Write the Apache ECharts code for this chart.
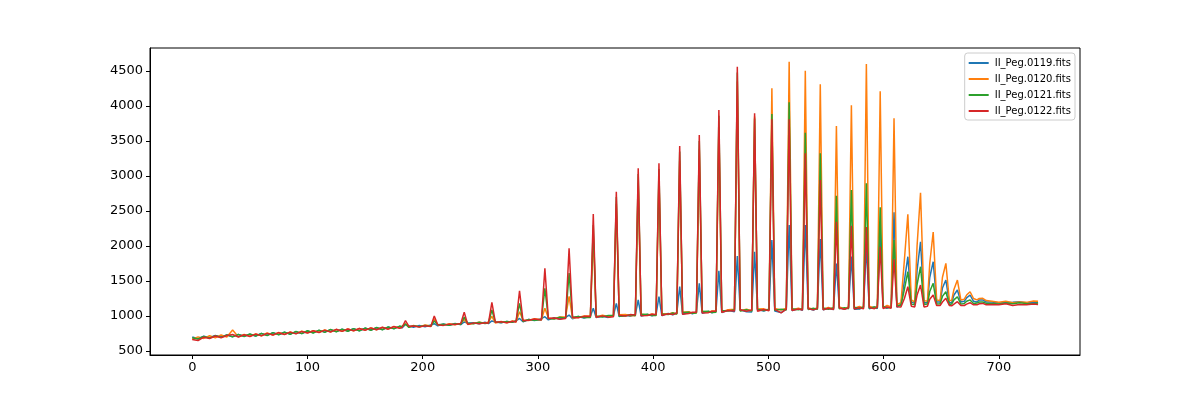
<!DOCTYPE html>
<html>
<head>
<meta charset="utf-8">
<script src="https://cdn.jsdelivr.net/npm/echarts@6/dist/echarts.min.js"></script>
<style>
html,body{margin:0;padding:0;background:#fff;}
#chart{width:1200px;height:400px;}
</style>
</head>
<body>
<div id="chart"></div>
<script>
// ---- data ----
const seriesNames = ['II_Peg.0119.fits', 'II_Peg.0120.fits', 'II_Peg.0121.fits', 'II_Peg.0122.fits'];
const xTicks = [0, 100, 200, 300, 400, 500, 600, 700];
const yTicks = [500, 1000, 1500, 2000, 2500, 3000, 3500, 4000, 4500];

// sample positions (pixel index along the spectrum)
const xs = [].concat(
  [0,5,10,15,20,25,30,35,40,45,50,55,60,65,70,75,80,85,90,95,100,105,110,115,120,125,130,135,140,145,150,155,160,165,170,175,180],
  [182,185,188, 192,197,202, 207,210,213, 218,223,228, 233,236,239, 244,249,254, 257,260,263, 268,273,278,
   281,284,287, 292,297, 303,306,309, 314,319, 324,327,330, 335,340, 345.5,348,350.5, 356,361, 365.5,368,370.5, 376,380,
   384.5,387,389.5, 395,399, 402.5,405,407.5, 413,417, 420.5,423,425.5, 431,434, 437.5,440,442.5, 448,451, 454.5,457,459.5, 465,
   470.5,473,475.5, 481, 485.5,488,490.5, 496, 500.5,503,505.5, 511, 515.5,518,520.5, 526, 529.5,532,534.5, 539, 542.5,545,547.5, 552,
   556.5,559,561.5, 566, 569.5,572,574.5, 579, 582.5,585,587.5, 592, 594.5,597,599.5, 603, 606.5,609,611.5],
  [615,618,621,624, 627,629,632,635, 638,640,643,646, 649,651,654,657, 659,661,664,667, 670,672,675,678,
   681,683,686,689, 694,700,706,712,718,724,730,734]
);

const blue = [].concat(
  [700,675,712,690,722,700,728,705,735,712,740,715,750,725,760,735,768,742,775,750,786,762,795,770,805,778,810,785,818,790,825,800,832,808,842,820,852],
  [830,880,858, 840,866,846, 872,890,860, 885,866,892, 878,915,898, 905,888,910, 892,930,915, 905,922,910,
   930,965,918, 950,935, 962,990,945, 975,958, 980,1014,962, 992,972, 995,1110,980, 998,980, 1008,1181,992, 1015,995,
   1020,1229,1000, 1022,1002, 1025,1276,1005, 1038,1018, 1045,1419,1025, 1052,1032, 1058,1467,1040, 1066,1045, 1070,1647,1050, 1082,
   1062,1857,1090, 1060, 1058,1919,1092, 1070, 1095,2086,1072, 1050, 1100,2300,1078, 1105, 1080,2300,1108, 1085, 1110,2100,1088, 1112,
   1092,1750,1118, 1095, 1120,1850,1098, 1100, 1125,2000,1105, 1128, 1108,2200,1132, 1112, 1140,2481,1125],
  [1170,1500,1847,1200, 1180,1650,2061,1190, 1190,1550,1776,1200, 1200,1400,1514,1190, 1190,1300,1371,1200, 1210,1260,1300,1210,
   1200,1230,1230,1200, 1200,1185,1190,1195,1205,1185,1195,1190]
);

const orange = [].concat(
  [668,702,680,718,690,728,700,800,702,738,710,745,718,758,728,765,738,772,748,782,760,790,768,800,775,808,782,815,790,822,798,830,805,838,815,848,828],
  [852,890,840, 866,845,872, 856,955,878, 870,890,876, 895,950,884, 892,910,898, 915,995,900, 922,905,930,
   915,1060,942, 935,962, 948,1110,972, 962,985, 990,1280,970, 980,1000, 1002,2150,985, 1010,992, 995,2600,1018, 1022,1005,
   1008,2900,1028, 1010,1030, 1012,2980,1035, 1025,1048, 1030,3220,1055, 1060,1040, 1045,3380,1068, 1052,1072, 1075,3700,1058, 1090,
   1095,4350,1075, 1098, 1075,3850,1100, 1102, 1082,4253,1108, 1085, 1110,4633,1090, 1112, 1092,4504,1118, 1095, 1120,4310,1098, 1122,
   1102,3714,1128, 1105, 1130,4010,1110, 1135, 1112,4600,1140, 1115, 1142,4210,1120, 1150, 1130,3824,1165],
  [1190,1800,2453,1230, 1200,2000,2761,1220, 1210,1750,2200,1230, 1220,1550,1753,1220, 1220,1380,1514,1230, 1240,1300,1347,1250,
   1230,1250,1253,1220, 1210,1195,1210,1190,1200,1195,1215,1210]
);

const green = [].concat(
  [690,672,708,684,720,695,730,702,738,708,745,712,752,720,762,730,770,738,780,748,790,758,798,766,808,774,812,782,820,788,828,796,836,804,845,816,856],
  [848,885,838, 860,848,866, 854,930,876, 882,868,890, 880,985,900, 890,910,892, 900,1086,914, 906,920,912,
   932,1181,920, 952,940, 946,1396,966, 958,982, 968,1614,984, 994,978, 980,2300,1000, 985,1008, 1006,2700,995, 1000,1018,
   1004,3030,1022, 1024,1006, 1008,3100,1030, 1022,1044, 1028,3350,1050, 1055,1038, 1042,3500,1064, 1068,1050, 1055,3860,1078, 1070,
   1088,4480,1072, 1090, 1070,3820,1094, 1078, 1098,3886,1082, 1098, 1086,4053,1105, 1088, 1106,3619,1092, 1110, 1095,3324,1115, 1098,
   1118,2719,1102, 1120, 1105,2800,1125, 1108, 1128,2896,1112, 1130, 1115,2553,1135, 1118, 1122,2086,1150],
  [1150,1380,1633,1170, 1160,1450,1704,1165, 1170,1350,1467,1170, 1175,1280,1347,1165, 1170,1230,1276,1170, 1180,1210,1230,1180,
   1185,1200,1200,1180, 1180,1170,1185,1175,1190,1180,1175,1185]
);

const red = [].concat(
  [665,650,698,678,715,690,722,735,700,732,708,742,716,752,728,762,736,770,745,780,756,790,765,798,772,810,780,815,788,822,796,830,804,840,812,850,826],
  [836,933,852, 856,842,860, 850,1000,874, 866,884,878, 892,1053,880, 902,888,904, 896,1196,912, 918,904,926,
   914,1361,934, 938,956, 944,1681,964, 970,955, 964,1967,982, 975,995, 994,2457,982, 1002,984, 990,2776,1012, 1000,1020,
   1016,3110,1002, 1006,1026, 1022,3181,1008, 1032,1020, 1042,3429,1026, 1036,1054, 1055,3586,1044, 1048,1068, 1068,3943,1054, 1080,
   1070,4561,1088, 1068, 1086,3896,1068, 1092, 1075,3810,1096, 1045, 1098,3810,1080, 1100, 1085,3324,1104, 1088, 1106,2943,1090, 1110,
   1094,2347,1114, 1096, 1116,2290,1100, 1118, 1102,2270,1122, 1105, 1125,1990,1108, 1128, 1110,1810,1132],
  [1130,1250,1419,1140, 1130,1300,1443,1130, 1140,1240,1300,1150, 1150,1200,1253,1150, 1145,1170,1204,1150, 1150,1170,1190,1160,
   1160,1175,1180,1160, 1165,1160,1175,1150,1165,1160,1170,1165]
);

const colors = ['#1f77b4', '#ff7f0e', '#2ca02c', '#d62728'];
const allY = [blue, orange, green, red];
allY.forEach((a, i) => { if (a.length !== xs.length) console.warn('length mismatch', i, a.length, xs.length); });

const chart = echarts.init(document.getElementById('chart'), null, {renderer: 'canvas'});
const font = 'DejaVu Sans';
chart.setOption({
  animation: false,
  backgroundColor: '#fff',
  grid: {left: 150, right: 120, top: 48, bottom: 45, show: true, borderColor: '#000', borderWidth: 1, backgroundColor: 'transparent'},
  legend: {
    data: seriesNames,
    orient: 'vertical',
    right: 125,
    top: 53,
    backgroundColor: '#fff',
    borderColor: '#cccccc',
    borderWidth: 1,
    borderRadius: 3,
    padding: [4, 4, 3, 4],
    itemGap: 4,
    itemWidth: 20,
    itemHeight: 2,
    icon: 'rect',
    textStyle: {fontFamily: font, fontSize: 10, color: '#000', lineHeight: 12, padding: [0, 0, 0, 1]}
  },
  xAxis: {
    type: 'value',
    min: -36.7,
    max: 770.4,
    splitLine: {show: false},
    axisLine: {show: true, onZero: false, lineStyle: {color: '#000', width: 1}},
    axisTick: {show: true, length: 4, lineStyle: {color: '#000'}, customValues: xTicks},
    axisLabel: {color: '#000', fontFamily: font, fontSize: 13, margin: 6, customValues: xTicks, formatter: v => String(v)}
  },
  yAxis: {
    type: 'value',
    min: 443,
    max: 4829,
    splitLine: {show: false},
    axisLine: {show: true, onZero: false, lineStyle: {color: '#000', width: 1}},
    axisTick: {show: true, length: 4, lineStyle: {color: '#000'}, customValues: yTicks},
    axisLabel: {color: '#000', fontFamily: font, fontSize: 13, margin: 7, customValues: yTicks, formatter: v => String(v)}
  },
  series: allY.map((ys, i) => ({
    name: seriesNames[i],
    type: 'line',
    symbol: 'none',
    showSymbol: false,
    color: colors[i],
    lineStyle: {width: 1.5, color: colors[i]},
    emphasis: {disabled: true},
    data: xs.map((x, j) => [x, ys[j]])
  }))
});
</script>
</body>
</html>
